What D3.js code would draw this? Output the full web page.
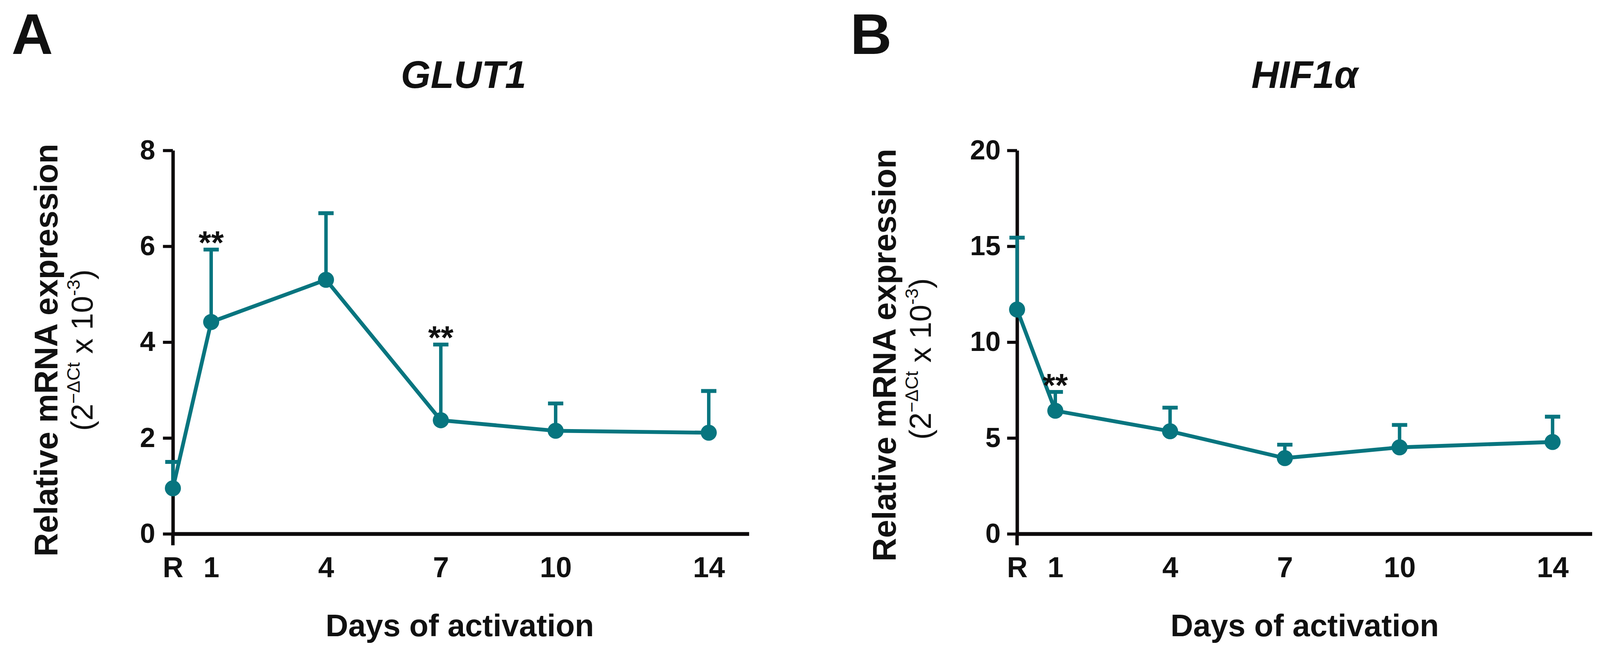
<!DOCTYPE html>
<html>
<head>
<meta charset="utf-8">
<script src="https://cdn.jsdelivr.net/npm/d3@7/dist/d3.min.js"></script>
<style>
  html, body { margin: 0; padding: 0; background: #ffffff; overflow: hidden; width: 100%; height: 100%; }
  svg { display: block; width: 100vw; height: 100vh; }
  text { font-family: "Liberation Sans", Arial, Helvetica, sans-serif; fill: #111; }
</style>
</head>
<body>
<svg id="chart" viewBox="0 0 4183 1717" preserveAspectRatio="xMinYMin meet"></svg>
<script>
// ---------- data ----------
const days = [0, 1, 4, 7, 10, 14];
const dayLabels = ["R", "1", "4", "7", "10", "14"];

const glut1Mean  = [0.95, 4.42, 5.30, 2.37, 2.15, 2.11];
const glut1Upper = [1.50, 5.93, 6.69, 3.95, 2.72, 2.98];
const glut1Stars = [1, 7];            // days marked "**"
const glut1Ticks = [0, 2, 4, 6, 8];

const hifMean  = [11.70, 6.42, 5.35, 3.95, 4.51, 4.79];
const hifUpper = [15.45, 7.40, 6.58, 4.65, 5.68, 6.11];
const hifStars = [1];
const hifTicks = [0, 5, 10, 15, 20];

const teal = "#07757f";
const ink = "#0d0a0b";

const svg = d3.select("#chart");

function panel(cfg) {
  const g = svg.append("g");
  const x = d3.scaleLinear().domain(cfg.xDomain).range(cfg.xRange);
  const y = d3.scaleLinear().domain(cfg.yDomain).range([1395, 393]);

  // panel letter
  g.append("text").attr("x", cfg.letterX).attr("y", 141)
    .attr("font-size", 150).attr("font-weight", "bold").text(cfg.letter);

  // title
  g.append("text").attr("x", cfg.titleX).attr("y", 230)
    .attr("text-anchor", "middle").attr("font-size", 100)
    .attr("font-weight", "bold").attr("font-style", "italic").text(cfg.title);

  // y axis
  const yAxis = d3.axisLeft(y).tickValues(cfg.yTicks).tickSize(26)
    .tickSizeOuter(0).tickPadding(cfg.yPad).tickFormat(d3.format("d"));
  const ya = g.append("g").attr("transform", `translate(${x(0)},0)`).call(yAxis);
  ya.select(".domain").attr("stroke", ink).attr("stroke-width", 9);
  ya.selectAll(".tick line").attr("stroke", ink).attr("stroke-width", 8);
  ya.selectAll(".tick text").attr("font-size", 72).attr("font-weight", "bold")
    .attr("fill", "#111").style("font-family", '"Liberation Sans", Arial, sans-serif');
  // axis offset below zero
  g.append("line").attr("x1", x(0)).attr("x2", x(0))
    .attr("y1", y(0)).attr("y2", y(0) + 30)
    .attr("stroke", ink).attr("stroke-width", 9);

  // x axis
  const xAxis = d3.axisBottom(x).tickValues(days).tickSize(0).tickPadding(60)
    .tickFormat((d, i) => dayLabels[i]);
  const xa = g.append("g").attr("transform", `translate(0,${y(0)})`).call(xAxis);
  xa.select(".domain").attr("stroke", ink).attr("stroke-width", 10);
  xa.selectAll(".tick text").attr("font-size", 75).attr("font-weight", "bold")
    .attr("fill", "#111").style("font-family", '"Liberation Sans", Arial, sans-serif');

  // axis titles
  g.append("text").attr("x", cfg.xTitleX).attr("y", 1663)
    .attr("text-anchor", "middle").attr("font-size", 82).attr("font-weight", "bold")
    .text("Days of activation");

  g.append("text")
    .attr("transform", `translate(${cfg.yTitleX},${cfg.yTitleY}) rotate(-90)`)
    .attr("text-anchor", "middle").attr("font-size", 85).attr("font-weight", "bold")
    .text("Relative mRNA expression");

  const sub = g.append("text")
    .attr("transform", `translate(${cfg.yTitleX + 92},${cfg.yTitleY + cfg.subDy}) rotate(-90)`)
    .attr("text-anchor", "middle").attr("font-size", 80);
  sub.append("tspan").text("(2");
  sub.append("tspan").attr("font-size", 48).attr("dy", -34).text("\u2212\u0394Ct");
  sub.append("tspan").attr("dy", 34).text(" x 10");
  sub.append("tspan").attr("font-size", 48).attr("dy", -34).text("-3");
  sub.append("tspan").attr("dy", 34).text(")");

  const pts = days.map((d, i) => ({ d, m: cfg.mean[i], u: cfg.upper[i] }));

  // error bars (upper only)
  const eb = g.append("g").attr("stroke", teal).attr("stroke-width", 9);
  eb.selectAll("line.v").data(pts).join("line").attr("class", "v")
    .attr("x1", p => x(p.d)).attr("x2", p => x(p.d))
    .attr("y1", p => y(p.m)).attr("y2", p => y(p.u));
  eb.selectAll("line.c").data(pts).join("line").attr("class", "c")
    .attr("x1", p => x(p.d) - 20).attr("x2", p => x(p.d) + 20)
    .attr("y1", p => y(p.u)).attr("y2", p => y(p.u)).attr("stroke-width", 10);

  // line
  g.append("path").datum(pts)
    .attr("fill", "none").attr("stroke", teal).attr("stroke-width", 10)
    .attr("stroke-linejoin", "round")
    .attr("d", d3.line().x(p => x(p.d)).y(p => y(p.m)));

  // markers
  g.selectAll("circle").data(pts).join("circle")
    .attr("cx", p => x(p.d)).attr("cy", p => y(p.m)).attr("r", 21)
    .attr("fill", teal);

  // significance stars
  g.selectAll("text.star").data(cfg.stars).join("text").attr("class", "star")
    .attr("x", d => x(d)).attr("y", d => y(cfg.upper[days.indexOf(d)]) + 12)
    .attr("text-anchor", "middle").attr("font-size", 85).attr("font-weight", "bold")
    .text("**");
}

panel({
  letter: "A", letterX: 30, title: "GLUT1", titleX: 1212,
  xDomain: [0, 15.05], xRange: [452, 1958],
  yDomain: [0, 8], yTicks: glut1Ticks, yPad: 20,
  mean: glut1Mean, upper: glut1Upper, stars: glut1Stars,
  xTitleX: 1202, yTitleX: 150, yTitleY: 915, subDy: 0
});

panel({
  letter: "B", letterX: 2223, title: "HIF1\u03b1", titleX: 3411,
  xDomain: [0, 15.03], xRange: [2659, 4162],
  yDomain: [0, 20], yTicks: hifTicks, yPad: 17,
  mean: hifMean, upper: hifUpper, stars: hifStars,
  xTitleX: 3411, yTitleX: 2342, yTitleY: 928, subDy: 10
});
</script>
</body>
</html>
